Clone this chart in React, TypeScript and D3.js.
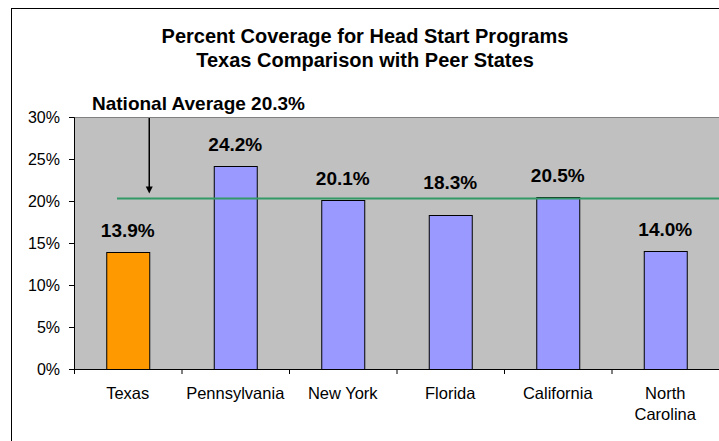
import React, { useRef, useEffect } from 'react';
import * as d3 from 'd3';

// data
const states = ['Texas', 'Pennsylvania', 'New York', 'Florida', 'California', 'North Carolina'];
const coverage = [13.9, 24.2, 20.1, 18.3, 20.5, 14.0];
const nationalAverage = 20.3;
const yTicks = [0, 5, 10, 15, 20, 25, 30];
const titleLines = ['Percent Coverage for Head Start Programs', 'Texas Comparison with Peer States'];

const W = 719;
const H = 441;
const margin = { top: 117, right: 0, bottom: 72, left: 74 };
const font = '"Liberation Sans", Arial, sans-serif';

const App: React.FC = () => {
  const svgRef = useRef<SVGSVGElement>(null);

  useEffect(() => {
    if (!svgRef.current) return;
    const svg = d3.select(svgRef.current);
    svg.selectAll('*').remove();

    const innerW = W - margin.left - margin.right;
    const innerH = H - margin.top - margin.bottom;

    const x = d3.scaleBand<string>().domain(states).range([0, innerW]).paddingInner(0.6).paddingOuter(0.3);
    const y = d3.scaleLinear().domain([0, 30]).range([innerH, 0]);

    // outer chart frame (cropped on the right and bottom)
    svg.append('rect')
      .attr('x', 11.5).attr('y', 8.5)
      .attr('width', W + 20).attr('height', H + 20)
      .attr('fill', 'white').attr('stroke', '#000').attr('stroke-width', 1);

    // title
    svg.append('text')
      .attr('x', 365).attr('y', 43)
      .attr('text-anchor', 'middle')
      .style('font-family', font).style('font-size', '20px').style('font-weight', 'bold')
      .selectAll('tspan').data(titleLines).enter().append('tspan')
      .attr('x', 365).attr('dy', (_, i) => (i === 0 ? 0 : 24))
      .text((d) => d);

    const g = svg.append('g').attr('transform', `translate(${margin.left},${margin.top})`);

    // plot area
    g.append('rect')
      .attr('x', 0).attr('y', 0).attr('width', innerW + 10).attr('height', innerH)
      .attr('fill', '#C0C0C0');
    g.append('line')
      .attr('x1', 0).attr('x2', innerW + 10).attr('y1', 0.5).attr('y2', 0.5)
      .attr('stroke', '#808080');

    // y axis
    const yAxis = g.append('g')
      .call(d3.axisLeft(y).tickValues(yTicks).tickSize(5).tickPadding(9).tickFormat((d) => `${d}%`));
    yAxis.select('.domain').attr('stroke', '#000');
    yAxis.selectAll('line').attr('stroke', '#000');
    yAxis.selectAll('text')
      .style('font-family', font).style('font-size', '16px').attr('fill', '#000');

    // x axis line + ticks between categories
    g.append('line')
      .attr('x1', 0).attr('x2', innerW + 10).attr('y1', innerH + 0.5).attr('y2', innerH + 0.5)
      .attr('stroke', '#000');
    const step = x.step();
    g.selectAll('.xtick').data(states).enter().append('line')
      .attr('class', 'xtick')
      .attr('x1', (d) => (x(d) as number) - step * 0.3 + 0.5)
      .attr('x2', (d) => (x(d) as number) - step * 0.3 + 0.5)
      .attr('y1', innerH).attr('y2', innerH + 5)
      .attr('stroke', '#000');

    // category labels
    const xl = g.selectAll('.xlabel').data(states).enter().append('text')
      .attr('class', 'xlabel')
      .attr('text-anchor', 'middle')
      .attr('y', innerH + 30)
      .style('font-family', font).style('font-size', '16.5px').attr('fill', '#000');
    xl.selectAll('tspan')
      .data((d) => (d === 'North Carolina' ? ['North', 'Carolina'] : [d]).map((t) => ({ t, s: d })))
      .enter().append('tspan')
      .attr('x', (d) => (x(d.s) as number) + x.bandwidth() / 2)
      .attr('dy', (_, i) => (i === 0 ? 0 : 21))
      .text((d) => d.t);

    // bars
    const data = states.map((s, i) => ({ s, v: coverage[i] }));
    g.selectAll('.bar').data(data).enter().append('rect')
      .attr('class', 'bar')
      .attr('x', (d) => (x(d.s) as number) + 0.5)
      .attr('y', (d) => Math.round(y(d.v)) + 0.5)
      .attr('width', x.bandwidth())
      .attr('height', (d) => innerH - Math.round(y(d.v)))
      .attr('fill', (d) => (d.s === 'Texas' ? '#FF9900' : '#9999FF'))
      .attr('stroke', '#000').attr('stroke-width', 1);

    // national average line
    const avgY = y(nationalAverage);
    g.append('line')
      .attr('x1', (x('Texas') as number) + x.bandwidth() / 4).attr('x2', innerW + 10)
      .attr('y1', avgY).attr('y2', avgY)
      .attr('stroke', '#339966').attr('stroke-width', 2);

    // value labels (lifted above the average line where they would cross it)
    g.selectAll('.val').data(data).enter().append('text')
      .attr('class', 'val')
      .attr('x', (d) => (x(d.s) as number) + x.bandwidth() / 2)
      .attr('y', (d) => {
        const base = y(d.v) - 15;
        const crosses = base > avgY - 2 && base - 14 < avgY + 2;
        return crosses ? avgY - 9 : base;
      })
      .attr('text-anchor', 'middle')
      .style('font-family', font).style('font-size', '19px').style('font-weight', 'bold')
      .attr('fill', '#000')
      .text((d) => `${d.v.toFixed(1)}%`);

    // annotation
    svg.append('text')
      .attr('x', 92).attr('y', 110)
      .style('font-family', font).style('font-size', '19px').style('font-weight', 'bold')
      .text(`National Average ${nationalAverage}%`);

    const ax = margin.left + (x('Texas') as number) + x.bandwidth();
    svg.append('line')
      .attr('x1', ax).attr('x2', ax)
      .attr('y1', margin.top + 1).attr('y2', margin.top + avgY - 10)
      .attr('stroke', '#000').attr('stroke-width', 1.5);
    svg.append('path')
      .attr('d', `M${ax - 3.5},${margin.top + avgY - 12} L${ax + 3.5},${margin.top + avgY - 12} L${ax},${margin.top + avgY - 5} Z`)
      .attr('fill', '#000');
  }, []);

  return (
    <div style={{ position: 'fixed', left: 0, top: 0 }}>
      <svg ref={svgRef} width={W} height={H} style={{ display: 'block', background: 'white' }} />
    </div>
  );
};

export default App;
